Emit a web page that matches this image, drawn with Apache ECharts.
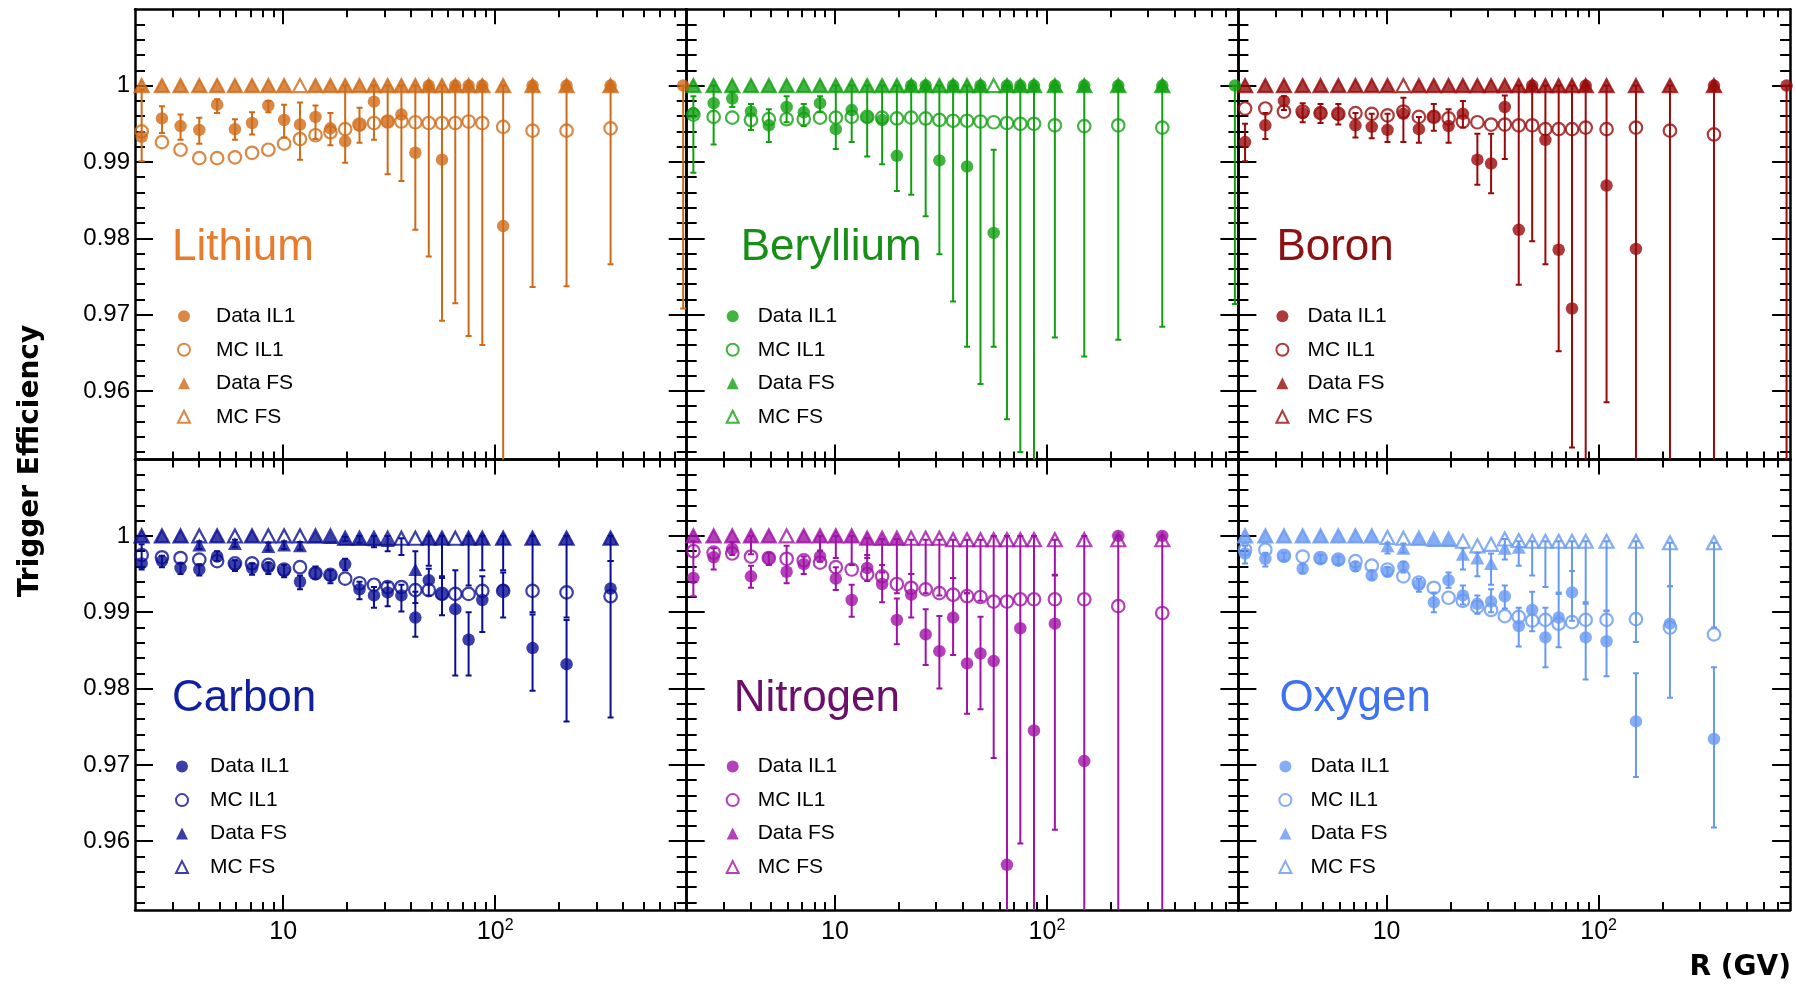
<!DOCTYPE html>
<html>
<head>
<meta charset="utf-8">
<title>Trigger Efficiency</title>
<script src="https://cdn.jsdelivr.net/npm/echarts@6/dist/echarts.min.js"></script>
<style>
  html, body { margin: 0; padding: 0; background: #ffffff; }
  #chart { width: 1796px; height: 987px; }
</style>
</head>
<body>
<div id="chart"></div>
<script>
// Rigidity bin centres (GV); the last bin only carries Data IL1 for Li, Be and B
const R = [2.15, 2.68, 3.28, 4.02, 4.88, 5.92, 7.13, 8.51, 10.1, 12.0, 14.2, 16.7, 19.6, 22.9, 26.8,
           31.1, 36.1, 42.0, 48.6, 56.1, 64.8, 74.9, 86.9, 109, 150, 217, 350, 770];

// Axis ticks
const X_MAJOR = [10, 100];
const X_MINOR = [3, 4, 5, 6, 7, 8, 9, 20, 30, 40, 50, 60, 70, 80, 90, 200, 300, 400, 500, 600, 700];
const Y_MAJOR = [0.96, 0.97, 0.98, 0.99, 1.0];
const Y_MINOR = [0.952, 0.954, 0.956, 0.958, 0.962, 0.964, 0.966, 0.968, 0.972, 0.974, 0.976, 0.978,
                 0.982, 0.984, 0.986, 0.988, 0.992, 0.994, 0.996, 0.998, 1.002, 1.004, 1.006, 1.008];

// ---------- Lithium ----------
const LI_DATA_IL1 = [0.9933, 0.9957, 0.9947, 0.9942, 0.9975, 0.9943, 0.9951, 0.9974, 0.9955, 0.9949,
                     0.9959, 0.9944, 0.9927, 0.9948, 0.9979, 0.9953, 0.9962, 0.9912, 1.0, 0.9903,
                     1.0, 1.0, 1.0, 0.9816, 1.0, 1.0, 1.0, 1.0];
const LI_LO = [0.9901, 0.9938, 0.9929, 0.9924, 0.9964, 0.9929, 0.9936, 0.9965, 0.9932, 0.9903,
               0.9930, 0.9922, 0.9899, 0.9925, 0.9929, 0.9884, 0.9875, 0.9811, 0.9776, 0.9692,
               0.9715, 0.9672, 0.9660, 0.9450, 0.9736, 0.9737, 0.9766, 0.9708];
const LI_HI = [0.9995, 0.9973, 0.9962, 0.9958, 0.9982, 0.9956, 0.9965, 0.9980, 0.9975, 0.9978,
               0.9974, 0.9964, 1.0, 0.9971, 1.0, 1.0, 1.0, 1.0, 1.0, 1.0,
               1.0, 1.0, 1.0, 1.0, 1.0, 1.0, 1.0, 1.0];
const LI_MC_IL1 = [0.9940, 0.9926, 0.9916, 0.9905, 0.9905, 0.9906, 0.9912, 0.9916, 0.9924, 0.9930,
                   0.9935, 0.9939, 0.9943, 0.9949, 0.9951, 0.9953, 0.9953, 0.9952, 0.9951, 0.9951,
                   0.9951, 0.9953, 0.9951, 0.9946, 0.9941, 0.9941, 0.9944];
const LI_DATA_FS = [1, 1, 1, 1, 1, 1, 1, 1, 1, null, 1, 1, 1, 1, 1, 1, 1, 1, 1, 1, 1, 1, 1, 1, 1, 1, 1];
const LI_MC_FS = [1, 1, 1, 1, 1, 1, 1, 1, 1, 1, 1, 1, 1, 1, 1, 1, 1, 1, 1, 1, 1, 1, 1, 1, 1, 1, 1];

// ---------- Beryllium ----------
const BE_DATA_IL1 = [0.9964, 0.9977, 0.9983, 0.9966, 0.9948, 0.9972, 0.9965, 0.9977, 0.9943, 0.9968,
                     0.9958, 0.9955, 0.9908, 1.0, 1.0, 0.9902, 1.0, 0.9894, 1.0, 0.9807,
                     1.0, 1.0, 1.0, 1.0, 1.0, 1.0, 1.0, 1.0];
const BE_LO = [0.9886, 0.9923, 0.9972, 0.9942, 0.9926, 0.9952, 0.9947, 0.9965, 0.9917, 0.9926,
               0.9907, 0.9897, 0.9862, 0.9857, 0.9829, 0.9779, 0.9717, 0.9658, 0.9609, 0.9658,
               0.9563, 0.9520, 0.9450, 0.9670, 0.9645, 0.9667, 0.9684, 0.9714];
const BE_HI = [0.9986, 1.0, 0.9992, 0.9976, 0.9969, 0.9986, 0.9976, 0.9986, 1.0, 1.0,
               1.0, 1.0, 1.0, 1.0, 1.0, 1.0, 1.0, 1.0, 1.0, 0.9916,
               1.0, 1.0, 1.0, 1.0, 1.0, 1.0, 1.0, 1.0];
const BE_MC_IL1 = [0.9962, 0.9959, 0.9958, 0.9955, 0.9956, 0.9956, 0.9956, 0.9958, 0.9958, 0.9959,
                   0.9959, 0.9958, 0.9957, 0.9958, 0.9957, 0.9955, 0.9954, 0.9954, 0.9953, 0.9952,
                   0.9951, 0.9950, 0.9950, 0.9948, 0.9947, 0.9948, 0.9945];
const BE_DATA_FS = [1, 1, 1, 1, 1, 1, 1, 1, 1, 1, 1, 1, 1, 1, 1, 1, 1, 1, 1, null, 1, 1, 1, 1, 1, 1, 1];
const BE_MC_FS = [1, 1, 1, 1, 1, 1, 1, 1, 1, 1, 1, 1, 1, 1, 1, 1, 1, 1, 1, 1, 1, 1, 1, 1, 1, 1, 1];

// ---------- Boron ----------
const B_DATA_IL1 = [0.9926, 0.9948, 0.9980, 0.9964, 0.9964, 0.9962, 0.9948, 0.9946, 0.9942, 0.9963,
                    0.9943, 0.9959, 0.9947, 0.9963, 0.9903, 0.9898, 0.9972, 0.9811, 1.0, 0.9929,
                    0.9785, 0.9708, 1.0, 0.9869, 0.9786, 0.9480, 1.0, 1.0];
const B_LO = [0.9901, 0.9930, 0.9968, 0.9952, 0.9951, 0.9949, 0.9932, 0.9931, 0.9926, 0.9926,
              0.9925, 0.9941, 0.9925, 0.9945, 0.9870, 0.9859, 0.9904, 0.9739, 0.9796, 0.9766,
              0.9652, 0.9526, 0.9450, 0.9585, 0.9450, 0.9450, 0.9450, 0.9450];
const B_HI = [0.9950, 0.9964, 0.9986, 0.9977, 0.9976, 0.9976, 0.9964, 0.9963, 0.9963, 0.9984,
              0.9959, 0.9976, 0.9969, 0.9980, 0.9937, 0.9937, 0.9987, 1.0, 1.0, 1.0,
              1.0, 1.0, 1.0, 1.0, 1.0, 1.0, 1.0, 1.0];
const B_MC_IL1 = [0.9970, 0.9970, 0.9966, 0.9966, 0.9964, 0.9963, 0.9964, 0.9963, 0.9961, 0.9966,
                  0.9959, 0.9959, 0.9957, 0.9953, 0.9952, 0.9949, 0.9949, 0.9948, 0.9948, 0.9943,
                  0.9943, 0.9943, 0.9945, 0.9943, 0.9945, 0.9941, 0.9936];
const B_DATA_FS = [1, 1, 1, 1, 1, 1, 1, 1, 1, null, 1, 1, 1, 1, 1, 1, 1, 1, 1, 1, 1, 1, 1, 1, 1, 1, 1];
const B_MC_FS = [1, 1, 1, 1, 1, 1, 1, 1, 1, 1, 1, 1, 1, 1, 1, 1, 1, 1, 1, 1, 1, 1, 1, 1, 1, 1, 1];

// ---------- Carbon ----------
const C_DATA_IL1 = [0.9964, 0.9967, 0.9958, 0.9956, 0.9973, 0.9962, 0.9958, 0.9959, 0.9954, 0.9940,
                    0.9951, 0.9948, 0.9963, 0.9930, 0.9922, 0.9926, 0.9922, 0.9893, 0.9942, 0.9923,
                    0.9904, 0.9864, 0.9916, 0.9929, 0.9853, 0.9832, 0.9931];
const C_LO = [0.9956, 0.9959, 0.9950, 0.9948, 0.9967, 0.9954, 0.9949, 0.9950, 0.9946, 0.9930,
              0.9944, 0.9938, 0.9955, 0.9917, 0.9906, 0.9908, 0.9901, 0.9868, 0.9922, 0.9896,
              0.9817, 0.9817, 0.9874, 0.9893, 0.9797, 0.9757, 0.9762];
const C_HI = [0.9989, 0.9974, 0.9965, 0.9963, 0.9980, 0.9968, 0.9964, 0.9965, 0.9962, 0.9948,
              0.9960, 0.9955, 0.9970, 0.9940, 0.9933, 0.9939, 0.9936, 0.9927, 0.9957, 0.9947,
              0.9955, 0.9900, 0.9947, 0.9952, 0.9897, 0.9890, 0.9967];
const C_MC_IL1 = [0.9975, 0.9972, 0.9971, 0.9969, 0.9967, 0.9964, 0.9964, 0.9962, 0.9956, 0.9959,
                  0.9951, 0.9949, 0.9944, 0.9938, 0.9936, 0.9933, 0.9933, 0.9929, 0.9929, 0.9924,
                  0.9924, 0.9924, 0.9928, 0.9928, 0.9928, 0.9926, 0.9921];
const C_DATA_FS = [1, 1, 1, 0.9988, 1, 0.9990, 1, 0.9986, 0.9988, 0.9987,
                   0.9999, 0.9998, 0.9996, 0.9996, 0.9995, 0.9994, null, 0.9956, 0.9997, 0.9997,
                   null, 0.9997, 0.9997, 0.9997, 0.9997, 0.9997, 0.9997];
const C_FS_LO = [null, null, null, 0.9983, null, 0.9985, null, 0.9981, 0.9983, 0.9982,
                 null, null, 0.9993, 0.9991, 0.9985, 0.9980, 0.9975, 0.9912, 0.9961, 0.9945,
                 null, 0.9935, 0.9955, 0.9955, 0.9900, 0.9893, 0.9967];
const C_FS_HI = [null, null, null, 0.9993, null, 0.9995, null, 0.9991, 0.9993, 0.9992,
                 null, null, 0.9999, 1.0, 1.0, 1.0, 0.9997, 0.9980, 1.0, 1.0,
                 null, 1.0, 1.0, 1.0, 1.0, 1.0, 1.0];
const C_MC_FS = [1, 1, 1, 1, 1, 1, 1, 1, 1, 1, 1, 1, 0.9997, 0.9997, 0.9997, 0.9997, 0.9997, 0.9997,
                 0.9997, 0.9997, 0.9997, 0.9997, 0.9997, 0.9997, 0.9997, 0.9997, 0.9997];

// ---------- Nitrogen ----------
const N_DATA_IL1 = [0.9945, 0.9972, 0.9983, 0.9947, 0.9971, 0.9953, 0.9963, 0.9973, 0.9944, 0.9916,
                    0.9958, 0.9937, 0.9890, 0.9923, 0.9871, 0.9849, 0.9893, 0.9833, 0.9846, 0.9836,
                    0.9569, 0.9879, 0.9745, 0.9885, 0.9705, 1.0, 1.0];
const N_LO = [0.9921, 0.9956, 0.9975, 0.9932, 0.9962, 0.9938, 0.9950, 0.9966, 0.9929, 0.9894,
              0.9941, 0.9913, 0.9858, 0.9893, 0.9831, 0.9800, 0.9844, 0.9767, 0.9773, 0.9709,
              0.9450, 0.9597, 0.9450, 0.9615, 0.9450, 0.9450, 0.9450];
const N_HI = [0.9993, 0.9984, 0.9992, 0.9961, 0.9978, 0.9987, 0.9973, 0.9981, 0.9959, 0.9936,
              0.9975, 0.9962, 0.9918, 0.9950, 0.9904, 0.9895, 0.9945, 0.9925, 0.9894, 1.0,
              1.0, 1.0, 1.0, 0.9948, 1.0, 1.0, 1.0];
const N_MC_IL1 = [0.9980, 0.9978, 0.9977, 0.9973, 0.9971, 0.9970, 0.9968, 0.9965, 0.9959, 0.9956,
                  0.9950, 0.9947, 0.9937, 0.9932, 0.9930, 0.9925, 0.9923, 0.9921, 0.9920, 0.9914,
                  0.9914, 0.9917, 0.9917, 0.9917, 0.9917, 0.9908, 0.9899];
const N_DATA_FS = [1, 1, 1, 1, 1, null, 1, 1, 1, 1,
                   0.9997, 0.9996, 0.9996, null, null, null, null, null, null, null,
                   null, null, null, null, null, null, null];
const N_FS_LO = [null, null, null, 0.9976, null, null, null, 0.9980, 0.9971, 0.9962,
                 0.9971, 0.9952, 0.9925, 0.9950, 0.9925, 0.9922, 0.9945, 0.9925, 0.9915, null,
                 null, null, null, 0.9949, null, null, null];
const N_FS_HI = [null, null, null, 1.0, null, null, null, 1.0, 1.0, 1.0,
                 0.9997, 0.9996, 0.9996, 0.9995, 0.9995, 0.9995, 0.9995, 0.9995, 0.9995, null,
                 null, null, null, 0.9995, null, null, null];
const N_MC_FS = [1, 1, 1, 1, 1, 1, 1, 1, 1, 1, 0.9997, 0.9997, 0.9997, 0.9997, 0.9997, 0.9997,
                 0.9995, 0.9995, 0.9995, 0.9995, 0.9995, 0.9995, 0.9995, 0.9995, 0.9995, 0.9995, 0.9995];

// ---------- Oxygen ----------
const O_DATA_IL1 = [0.9977, 0.9970, 0.9973, 0.9957, 0.9970, 0.9968, 0.9960, 0.9948, 0.9953, 0.9960,
                    0.9936, 0.9913, 0.9942, 0.9922, 0.9911, 0.9914, 0.9921, 0.9882, 0.9903, 0.9867,
                    0.9893, 0.9926, 0.9867, 0.9862, 0.9757, 0.9885, 0.9734];
const O_LO = [0.9964, 0.9960, 0.9968, 0.9951, 0.9965, 0.9963, 0.9954, 0.9943, 0.9947, 0.9952,
              0.9927, 0.9900, 0.9932, 0.9910, 0.9898, 0.9900, 0.9905, 0.9855, 0.9875, 0.9828,
              0.9854, 0.9889, 0.9812, 0.9816, 0.9684, 0.9788, 0.9618];
const O_HI = [0.9987, 0.9978, 0.9978, 0.9963, 0.9975, 0.9973, 0.9966, 0.9955, 0.9959, 0.9966,
              0.9944, 0.9926, 0.9952, 0.9935, 0.9922, 0.9930, 0.9935, 0.9906, 0.9927, 0.9906,
              0.9924, 0.9954, 0.9911, 0.9902, 0.9820, 0.9934, 0.9828];
const O_MC_IL1 = [0.9982, 0.9982, 0.9974, 0.9973, 0.9971, 0.9969, 0.9967, 0.9961, 0.9956, 0.9947,
                  0.9939, 0.9932, 0.9919, 0.9915, 0.9907, 0.9903, 0.9895, 0.9894, 0.9889, 0.9890,
                  0.9885, 0.9887, 0.9890, 0.9890, 0.9891, 0.9880, 0.9871];
const O_DATA_FS = [1, 1, 1, 1, 1, 1, 1, 1, 0.9987, 0.9984,
                   0.9996, 0.9994, 0.9994, 0.9976, 0.9971, 0.9964, 0.9984, 0.9985, null, null,
                   null, null, null, null, null, null, null];
const O_FS_LO = [null, null, null, null, null, null, null, null, 0.9977, 0.9978,
                 null, null, null, 0.9956, 0.9947, 0.9936, 0.9969, 0.9961, 0.9948, 0.9933,
                 0.9926, 0.9954, 0.9913, 0.9902, 0.9861, 0.9934, 0.9880];
const O_FS_HI = [null, null, null, null, null, null, null, null, 0.9991, 0.9990,
                 null, null, null, 0.9984, 0.9978, 0.9977, 0.9996, 0.9993, 0.9993, 0.9993,
                 0.9993, 0.9993, 0.9993, 0.9993, 0.9993, 0.9991, 0.9991];
const O_MC_FS = [1, 1, 1, 1, 1, 1, 1, 1, 0.9998, 0.9997, 0.9997, 0.9996, 0.9996, 0.9993, 0.9987,
                 0.9989, 0.9996, 0.9994, 0.9993, 0.9993, 0.9993, 0.9993, 0.9993, 0.9993, 0.9993, 0.9991, 0.9991];

// Panel descriptions (reading order: top row Li, Be, B; bottom row C, N, O)
const PANELS = [
  { name: 'Lithium',   color: '#cf6a18', text: '#e67c2c', il1: LI_DATA_IL1, lo: LI_LO, hi: LI_HI, mc: LI_MC_IL1,
    fs: LI_DATA_FS, fsLo: null, fsHi: null, mcfs: LI_MC_FS, nameDx: 37, legDx: 48, legGap: 32 },
  { name: 'Beryllium', color: '#12a012', text: '#178f17', il1: BE_DATA_IL1, lo: BE_LO, hi: BE_HI, mc: BE_MC_IL1,
    fs: BE_DATA_FS, fsLo: null, fsHi: null, mcfs: BE_MC_FS, nameDx: 54, legDx: 45, legGap: 25 },
  { name: 'Boron',     color: '#980a0a', text: '#8a1212', il1: B_DATA_IL1, lo: B_LO, hi: B_HI, mc: B_MC_IL1,
    fs: B_DATA_FS, fsLo: null, fsHi: null, mcfs: B_MC_FS, nameDx: 38, legDx: 43, legGap: 25 },
  { name: 'Carbon',    color: '#0a0f92', text: '#101f9e', il1: C_DATA_IL1, lo: C_LO, hi: C_HI, mc: C_MC_IL1,
    fs: C_DATA_FS, fsLo: C_FS_LO, fsHi: C_FS_HI, mcfs: C_MC_FS, nameDx: 37, legDx: 46, legGap: 28 },
  { name: 'Nitrogen',  color: '#a012a6', text: '#6c0f6a', il1: N_DATA_IL1, lo: N_LO, hi: N_HI, mc: N_MC_IL1,
    fs: N_DATA_FS, fsLo: N_FS_LO, fsHi: N_FS_HI, mcfs: N_MC_FS, nameDx: 47, legDx: 45, legGap: 25 },
  { name: 'Oxygen',    color: '#6798f2', text: '#3d72f2', il1: O_DATA_IL1, lo: O_LO, hi: O_HI, mc: O_MC_IL1,
    fs: O_DATA_FS, fsLo: O_FS_LO, fsHi: O_FS_HI, mcfs: O_MC_FS, nameDx: 41, legDx: 46, legGap: 25 }
];

// Layout of the 3 x 2 panel block
const LEFT0 = 135, TOP0 = 9.3, PW = 551.7, PH = 450.3;
const FONT = 'Liberation Sans';

function points(vals) {
  const out = [];
  vals.forEach((v, i) => { if (v != null) out.push([R[i], v]); });
  return out;
}
function ranges(lo, hi) {
  const out = [];
  if (!lo) return out;
  lo.forEach((l, i) => { if (l != null && hi[i] != null) out.push([R[i], l, hi[i]]); });
  return out;
}
function errorBar(color) {
  return function (params, api) {
    const x = api.value(0);
    const a = api.coord([x, api.value(2)]);
    const b = api.coord([x, api.value(1)]);
    const cap = 3;
    const st = () => ({ stroke: color, lineWidth: 2 });
    return {
      type: 'group',
      children: [
        { type: 'line', shape: { x1: a[0], y1: a[1], x2: b[0], y2: b[1] }, style: st() },
        { type: 'line', shape: { x1: a[0] - cap, y1: a[1], x2: a[0] + cap, y2: a[1] }, style: st() },
        { type: 'line', shape: { x1: b[0] - cap, y1: b[1], x2: b[0] + cap, y2: b[1] }, style: st() }
      ]
    };
  };
}

const grid = [], xAxis = [], yAxis = [], series = [], legend = [], title = [];
const black = '#000000';

PANELS.forEach((p, gi) => {
  const col = gi % 3, row = Math.floor(gi / 3);
  const L = LEFT0 + col * PW, T = TOP0 + row * PH;
  grid.push({ left: L, top: T, width: PW, height: PH, containLabel: false });

  const xBase = { type: 'log', logBase: 10, min: 2, max: 800, gridIndex: gi, splitLine: { show: false } };
  const yBase = { type: 'value', min: 0.951, max: 1.01, gridIndex: gi, splitLine: { show: false }, scale: true };
  const frame = { show: true, onZero: false, lineStyle: { color: black, width: 2.5 } };
  const noLine = { show: false, onZero: false };
  const tick = (vals, len) => ({ show: true, inside: true, length: len, customValues: vals,
                                 lineStyle: { color: black, width: 2 } });

  ['bottom', 'top'].forEach(pos => {
    xAxis.push(Object.assign({}, xBase, {
      position: pos, axisLine: frame, axisTick: tick(X_MAJOR, 15),
      axisLabel: {
        show: pos === 'bottom' && row === 1, customValues: X_MAJOR, margin: 8,
        formatter: v => (Math.round(v) === 10 ? '{b|10}' : '{b|10}{s|2}'),
        rich: {
          b: { fontFamily: FONT, fontSize: 25, lineHeight: 29, color: black },
          s: { fontFamily: FONT, fontSize: 16, lineHeight: 16, verticalAlign: 'top', color: black }
        }
      }
    }));
    xAxis.push(Object.assign({}, xBase, {
      position: pos, axisLine: noLine, axisTick: tick(X_MINOR, 8), axisLabel: { show: false }
    }));
  });
  ['left', 'right'].forEach(pos => {
    yAxis.push(Object.assign({}, yBase, {
      position: pos, axisLine: frame, axisTick: tick(Y_MAJOR, 18),
      axisLabel: {
        show: pos === 'left' && col === 0, customValues: Y_MAJOR, margin: 5,
        fontFamily: FONT, fontSize: 24, color: black,
        formatter: v => String(Math.round(v * 100) / 100)
      }
    }));
    yAxis.push(Object.assign({}, yBase, {
      position: pos, axisLine: noLine, axisTick: tick(Y_MINOR, 10), axisLabel: { show: false }
    }));
  });

  const xi = gi * 4, yi = gi * 4;
  const c = p.color;
  const hollow = { color: 'rgba(0,0,0,0)', borderColor: c, borderWidth: 2.2 };
  const filled = { color: c, borderWidth: 0 };
  const common = { xAxisIndex: xi, yAxisIndex: yi, silent: true, animation: false };

  series.push(Object.assign({}, common, {
    type: 'custom', name: p.name + '|IL1 errors', renderItem: errorBar(c), clip: true, z: 2,
    encode: { x: 0, y: [1, 2] }, data: ranges(p.lo, p.hi)
  }));
  series.push(Object.assign({}, common, {
    type: 'custom', name: p.name + '|FS errors', renderItem: errorBar(c), clip: true, z: 2,
    encode: { x: 0, y: [1, 2] }, data: ranges(p.fsLo, p.fsHi)
  }));
  series.push(Object.assign({}, common, {
    type: 'scatter', name: p.name + '|MC FS', symbol: 'triangle', symbolSize: [14, 13], z: 3,
    itemStyle: hollow, data: points(p.mcfs), clip: true
  }));
  series.push(Object.assign({}, common, {
    type: 'scatter', name: p.name + '|Data FS', symbol: 'triangle', symbolSize: [14, 13], z: 4,
    itemStyle: filled, data: points(p.fs), clip: true
  }));
  series.push(Object.assign({}, common, {
    type: 'scatter', name: p.name + '|MC IL1', symbol: 'circle', symbolSize: 12.5, z: 5,
    itemStyle: hollow, data: points(p.mc), clip: true
  }));
  series.push(Object.assign({}, common, {
    type: 'scatter', name: p.name + '|Data IL1', symbol: 'circle', symbolSize: 12.5, z: 6,
    itemStyle: filled, data: points(p.il1), clip: true
  }));

  legend.push({
    left: L + p.legDx - 6, top: T + 307 - 10.5, orient: 'vertical', padding: 0,
    itemGap: 12.5, itemWidth: 12, itemHeight: 12, selectedMode: false,
    formatter: n => n.split('|')[1],
    textStyle: { fontFamily: FONT, fontSize: 21, lineHeight: 21, color: black,
                 padding: [0, 0, 0, p.legGap - 11] },
    data: [
      { name: p.name + '|Data IL1', icon: 'circle', itemStyle: { color: c, borderWidth: 0 } },
      { name: p.name + '|MC IL1', icon: 'circle', itemStyle: { color: 'rgba(0,0,0,0)', borderColor: c, borderWidth: 2 } },
      { name: p.name + '|Data FS', icon: 'triangle', itemStyle: { color: c, borderWidth: 0 } },
      { name: p.name + '|MC FS', icon: 'triangle', itemStyle: { color: 'rgba(0,0,0,0)', borderColor: c, borderWidth: 2 } }
    ]
  });

  title.push({
    text: p.name, left: L + p.nameDx, top: T + 217, padding: 0,
    textStyle: { fontFamily: FONT, fontSize: 44, fontWeight: 'normal', color: p.text, lineHeight: 44 }
  });
});

const chart = echarts.init(document.getElementById('chart'), null, { renderer: 'canvas' });
chart.setOption({
  animation: false,
  backgroundColor: '#ffffff',
  grid, xAxis, yAxis, series, legend, title,
  graphic: [
    { type: 'text', x: 31, y: 461, rotation: Math.PI / 2, silent: true,
      style: { text: 'Trigger Efficiency', fontFamily: 'DejaVu Sans', fontWeight: 'bold', fontSize: 28,
               fill: black, align: 'center', verticalAlign: 'middle' } },
    { type: 'text', x: 1791, y: 968, silent: true,
      style: { text: 'R (GV)', fontFamily: 'DejaVu Sans', fontWeight: 'bold', fontSize: 28,
               fill: black, align: 'right', verticalAlign: 'middle' } }
  ]
});
</script>
</body>
</html>
